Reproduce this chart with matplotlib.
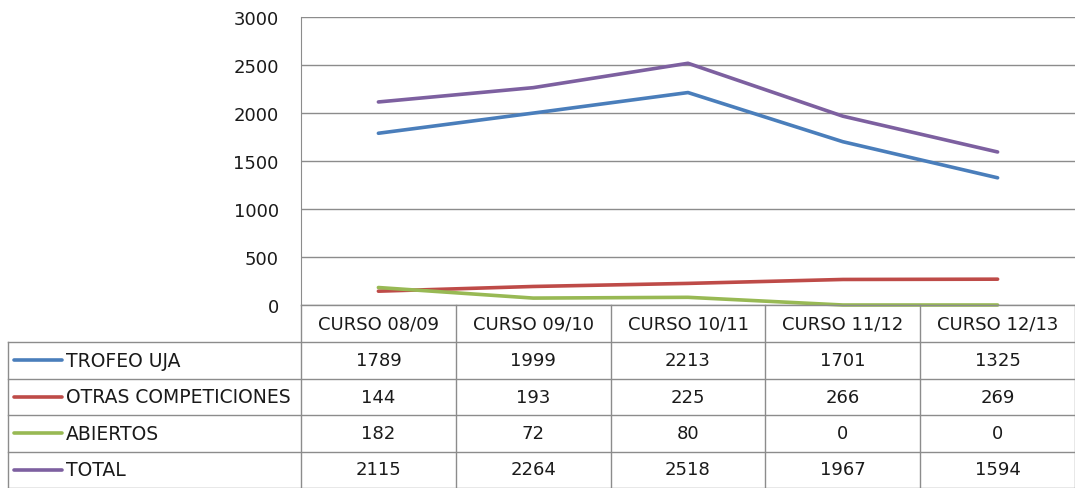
import matplotlib.pyplot as plt
from matplotlib.lines import Line2D

cursos = ["CURSO 08/09", "CURSO 09/10", "CURSO 10/11", "CURSO 11/12", "CURSO 12/13"]
series_names = ["TROFEO UJA", "OTRAS COMPETICIONES", "ABIERTOS", "TOTAL"]
trofeo_uja = [1789, 1999, 2213, 1701, 1325]
otras = [144, 193, 225, 266, 269]
abiertos = [182, 72, 80, 0, 0]
total = [2115, 2264, 2518, 1967, 1594]
y_ticks = [0, 500, 1000, 1500, 2000, 2500, 3000]

colors = ["#4A7EBB", "#BE4B48", "#98B954", "#7D60A0"]
grid_c = "#8c8c8c"
text_c = "#1a1a1a"
W, H = 1075, 489
fs = 13

fig = plt.figure(figsize=(W / 100, H / 100), dpi=100)

# plot area in pixel coords
x0, x1, y_top, y_bot = 301, 1075, 18, 306
ax = fig.add_axes([x0 / W, 1 - y_bot / H, (x1 - x0) / W, (y_bot - y_top) / H])
ax.set_xlim(-0.5, len(cursos) - 0.5)
ax.set_ylim(0, 3000)
ax.set_xticks([])
ax.set_yticks(y_ticks)
ax.set_yticklabels([str(v) for v in y_ticks], fontsize=fs, color=text_c)
ax.tick_params(axis="y", length=0, pad=16)
for v in y_ticks:
    ax.axhline(v, color=grid_c, lw=1, zorder=1)
for s in ["top", "right", "bottom"]:
    ax.spines[s].set_visible(False)
ax.spines["left"].set_color(grid_c)

xs = range(len(cursos))
for vals, c in zip([trofeo_uja, otras, abiertos, total], colors):
    ax.plot(xs, vals, color=c, lw=2.6, solid_capstyle="round", clip_on=False, zorder=3)


# data table drawn in pixel coordinates
def fx(px):
    return px / W


def fy(py):
    return 1 - py / H


col_w = (x1 - x0) / len(cursos)
col_edges = [x0 + i * col_w for i in range(len(cursos) + 1)]
row_edges = [343, 379.5, 416, 452.5, 488.5]

for yy in [y_bot] + row_edges:
    left = 8 if yy != y_bot else x0
    fig.add_artist(Line2D([fx(left), fx(x1)], [fy(yy), fy(yy)], color=grid_c, lw=1))
fig.add_artist(Line2D([fx(8), fx(8)], [fy(343), fy(488.5)], color=grid_c, lw=1))
for xe in col_edges:
    fig.add_artist(Line2D([fx(xe), fx(xe)], [fy(y_bot), fy(488.5)], color=grid_c, lw=1))

for i, name in enumerate(cursos):
    fig.text(fx(x0 + (i + 0.5) * col_w), fy((y_bot + 343) / 2), name,
             ha="center", va="center", fontsize=fs, color=text_c)

all_vals = [trofeo_uja, otras, abiertos, total]
for r, (name, vals, c) in enumerate(zip(series_names, all_vals, colors)):
    yc = (row_edges[r] + row_edges[r + 1]) / 2
    fig.add_artist(Line2D([fx(14), fx(62)], [fy(yc), fy(yc)], color=c, lw=2.6,
                          solid_capstyle="round"))
    fig.text(fx(66), fy(yc), name, ha="left", va="center", fontsize=fs + 0.5,
             color=text_c)
    for i, v in enumerate(vals):
        fig.text(fx(x0 + (i + 0.5) * col_w), fy(yc), str(v),
                 ha="center", va="center", fontsize=fs, color=text_c)

fig.savefig("out.png", dpi=100)
